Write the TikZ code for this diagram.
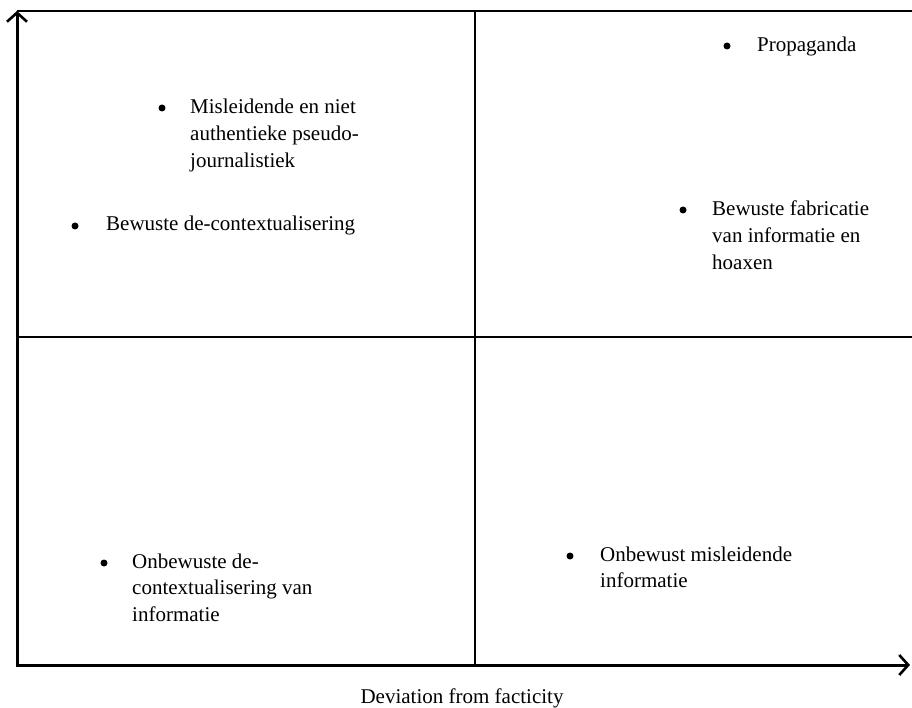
\documentclass[tikz,border=0pt]{standalone}
\usepackage{fontspec}
\setmainfont{Liberation Serif}
\usetikzlibrary{arrows.meta}
\begin{document}
\begin{tikzpicture}[x=1pt,y=-1pt,
  thinline/.style={line width=1.3pt},
  axisline/.style={line width=3pt},
  item/.style={anchor=base west,inner sep=0pt,align=left,font=\fontsize{21}{26.8}\selectfont},
  bulletdot/.style={circle,fill=black,inner sep=0pt,minimum size=7pt},
  axistip/.style={-{Straight Barb[length=9pt,width=20pt,line width=2.6pt]}}]
\useasboundingbox (0,0) rectangle (912,708);
% coordinates
\coordinate (O) at (17,665);
\coordinate (TL) at (17,11);
\coordinate (TR) at (912,11);
\coordinate (TM) at (475,11);
\coordinate (BM) at (475,665);
\coordinate (ML) at (17,337);
\coordinate (MR) at (912,337);
\coordinate (YE) at (17,11);
\coordinate (XE) at (910,665);
% grid lines
\draw[thinline] (TL) -- (TR);
\draw[thinline] (TM) -- (BM);
\draw[thinline] (ML) -- (MR);
% axes
\draw[axisline,axistip] (O) -- (YE);
\draw[axisline,axistip] ([xshift=-1.5pt]O) -- (XE);
% items (anchor at baseline of last line)
\node[bulletdot] (b1) at (727,46) {};
\node[item] (t1) at (757,52) {Propaganda};
\node[bulletdot] (b2) at (162,108) {};
\node[item] (t2) at (190,167.6) {Misleidende en niet\\authentieke pseudo-\\journalistiek};
\node[bulletdot] (b3) at (75,226) {};
\node[item] (t3) at (106,231) {Bewuste de-contextualisering};
\node[bulletdot] (b4) at (683,210) {};
\node[item] (t4) at (712,269.6) {Bewuste fabricatie\\van informatie en\\hoaxen};
\node[bulletdot] (b5) at (104,563) {};
\node[item] (t5) at (132,621.6) {Onbewuste de-\\contextualisering van\\informatie};
\node[bulletdot] (b6) at (570,556) {};
\node[item] (t6) at (600,587.8) {Onbewust misleidende\\informatie};
\node[anchor=base,inner sep=0pt,font=\fontsize{21}{26}\selectfont] (xl) at (462,703) {Deviation from facticity};
\end{tikzpicture}
\end{document}
